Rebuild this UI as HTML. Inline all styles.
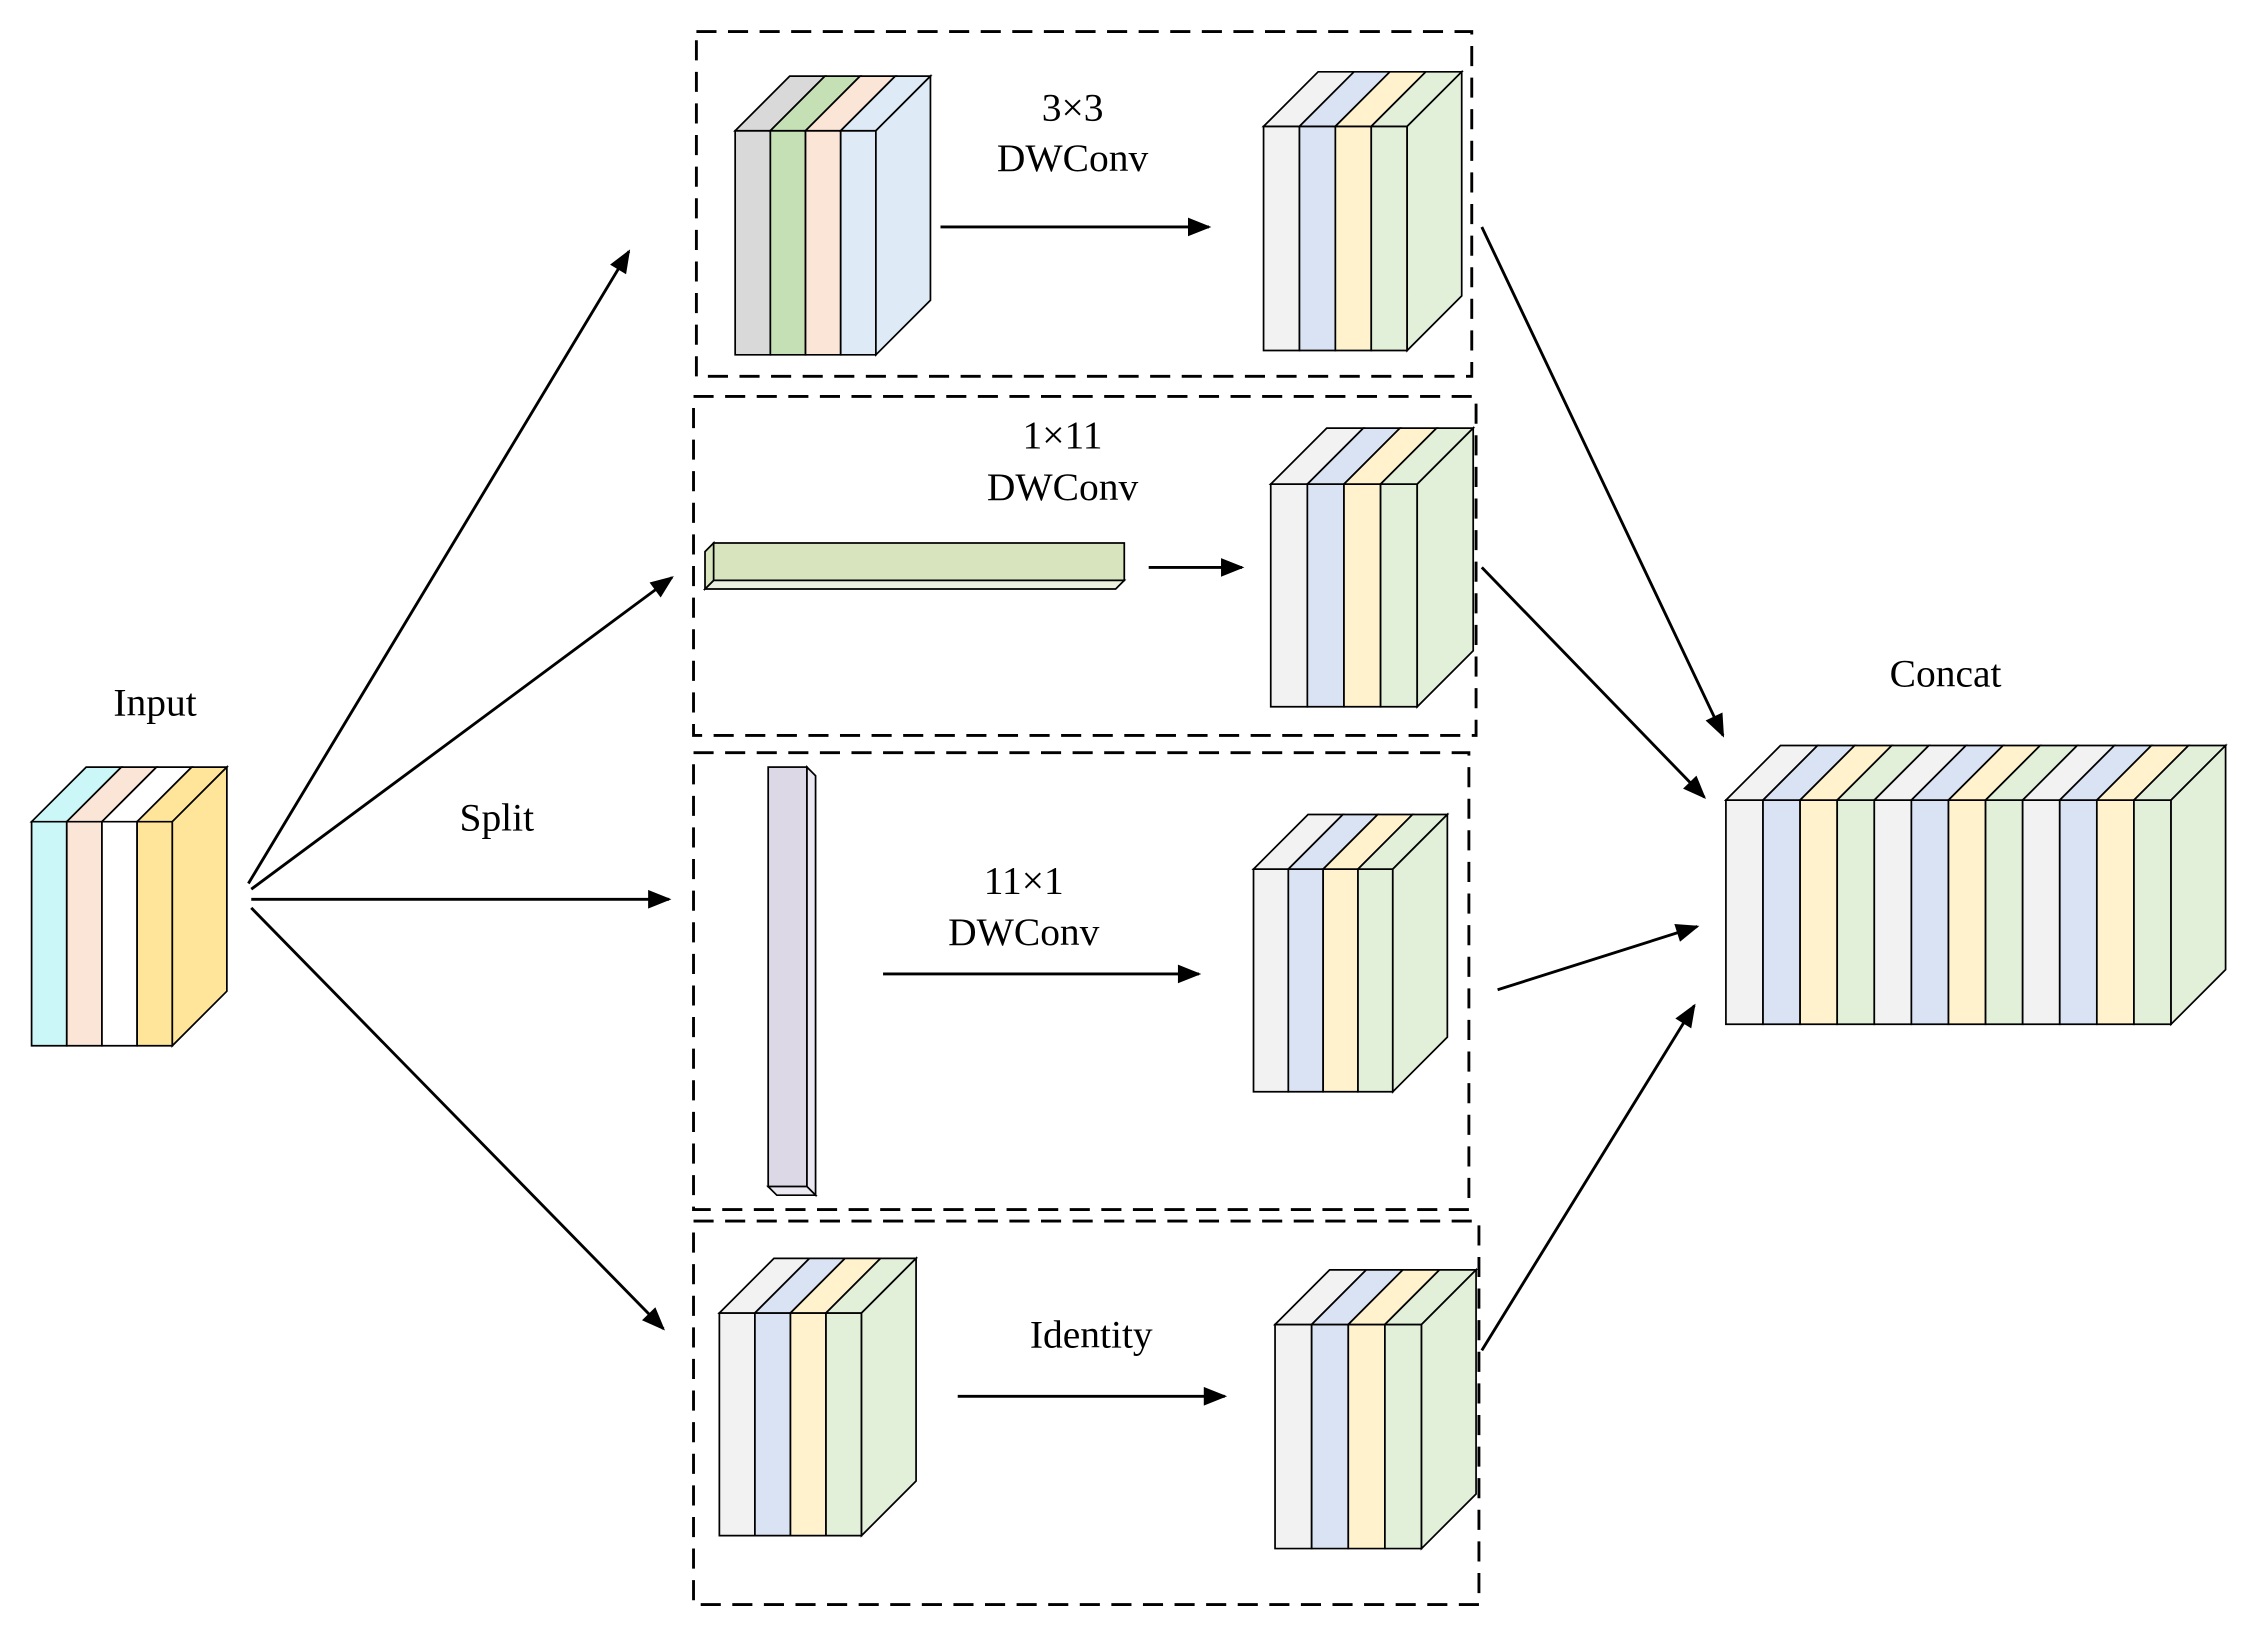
<!DOCTYPE html>
<html><head><meta charset="utf-8"><style>
html,body{margin:0;padding:0;background:#fff;}
svg{display:block;}
text{font-family:"Liberation Serif",serif;font-size:27.5px;fill:#000;text-anchor:middle;}
</style></head><body>
<svg id="s" width="2250" height="1629" viewBox="0 0 1567 1134" preserveAspectRatio="none" xmlns="http://www.w3.org/2000/svg">
<defs>
<marker id="ah2" viewBox="0 0 10 8" markerWidth="18" markerHeight="13" refX="9" refY="4" orient="auto" markerUnits="userSpaceOnUse"><path d="M0,0 L10,4 L0,8 Z" fill="#000"/></marker></defs>
<g fill="none" stroke="#000" stroke-width="2" stroke-dasharray="14,8">
<rect x="485" y="22" width="540" height="240"/>
<rect x="483" y="276" width="545" height="236"/>
<rect x="483" y="524" width="540" height="318"/>
<rect x="483" y="850" width="547" height="267"/>
</g>
<g id="cubes" stroke="#000" stroke-width="1.2" stroke-linejoin="miter"></g>
<g stroke="#000" stroke-width="1.2">
<rect x="497" y="378" width="286" height="26" fill="#d7e4bd"/>
<polygon points="491,410 777,410 783,404 497,404" fill="#ebf1de"/>
<polygon points="491,384 497,378 497,404 491,410" fill="#d7e4bd"/>
<rect x="535" y="534" width="27" height="292" fill="#dcd8e6"/>
<polygon points="562,534 568,540 568,832 562,826" fill="#ebe8f2"/>
<polygon points="535,826 562,826 568,832 541,832" fill="#ebe8f2"/>
</g>
<g stroke="#000" stroke-width="2" fill="none" marker-end="url(#ah2)">
<line x1="655" y1="158" x2="842" y2="158"/>
<line x1="800" y1="395" x2="865" y2="395"/>
<line x1="615" y1="678" x2="835" y2="678"/>
<line x1="667" y1="972" x2="853" y2="972"/>
<line x1="173" y1="615" x2="438" y2="175"/>
<line x1="175" y1="619" x2="468" y2="402"/>
<line x1="175" y1="626" x2="466" y2="626"/>
<line x1="175" y1="632" x2="462" y2="925"/>
<line x1="1032" y1="158" x2="1200" y2="512"/>
<line x1="1032" y1="395" x2="1187" y2="555"/>
<line x1="1043" y1="689" x2="1182" y2="645"/>
<line x1="1032" y1="940" x2="1180" y2="700"/>
</g>
<text x="108" y="498">Input</text>
<text x="346" y="578">Split</text>
<text x="747" y="84">3×3</text>
<text x="747" y="119">DWConv</text>
<text x="740" y="312">1×11</text>
<text x="740" y="348">DWConv</text>
<text x="713" y="622">11×1</text>
<text x="713" y="658">DWConv</text>
<text x="760" y="938">Identity</text>
<text x="1355" y="478">Concat</text>
</svg>
<script>
(function(){
var g=document.getElementById('cubes'),NS='http://www.w3.org/2000/svg';
function P(pts,fill){var p=document.createElementNS(NS,'polygon');p.setAttribute('points',pts.map(function(a){return a.join(',')}).join(' '));p.setAttribute('fill',fill);g.appendChild(p);}
function cube(x0,x1,y0,y1,cols,side,d){
  d=d||38;var n=cols.length,w=(x1-x0)/n;
  for(var i=0;i<n;i++){var a=x0+i*w,b=a+w;
    P([[a,y0],[b,y0],[b,y1],[a,y1]],cols[i]);
    P([[a,y0],[a+d,y0-d],[b+d,y0-d],[b,y0]],cols[i]);}
  P([[x1,y0],[x1+d,y0-d],[x1+d,y1-d],[x1,y1]],side);
}
var A=['#f2f2f2','#dae3f3','#fff2cc','#e2f0d9'];
cube(22,120,572,728,['#ccf7f8','#fbe5d6','#ffffff','#fee599'],'#fee599');
cube(512,610,91,247,['#d9d9d9','#c5e0b4','#fbe5d6','#deebf7'],'#deebf7');
cube(880,980,88,244,A,'#e2f0d9');
cube(885,987,337,492,A,'#e2f0d9',39);
cube(873,970,605,760,A,'#e2f0d9');
cube(501,600,914,1069,A,'#e2f0d9');
cube(888,990,922,1078,A,'#e2f0d9');
cube(1202,1512,557,713,A.concat(A,A),'#e2f0d9');
})();
</script>
</body></html>
